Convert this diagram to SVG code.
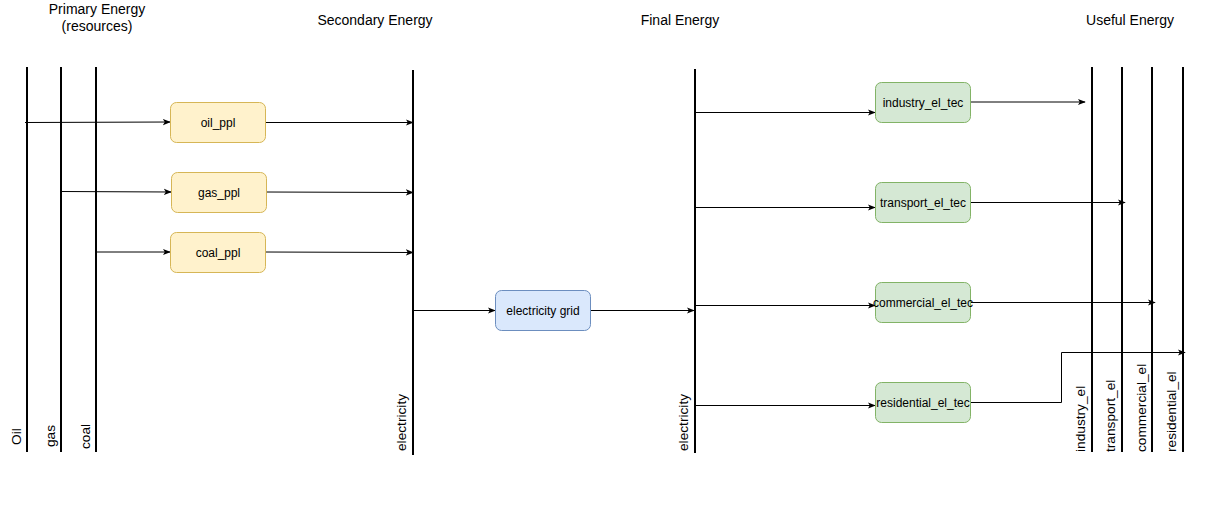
<svg xmlns="http://www.w3.org/2000/svg" width="1216" height="523" viewBox="0 0 1216 523">
<style>
text{font-family:"Liberation Sans",Arial,sans-serif;fill:#000}
.title{font-size:14px;text-anchor:middle}
.vl{font-size:13.7px;text-anchor:start}
.nl{font-size:12px;text-anchor:middle;dominant-baseline:central}
.bus{stroke:#000;stroke-width:2;fill:none}
.y{fill:#fff2cc;stroke:#d6b656}
.b{fill:#dae8fc;stroke:#6c8ebf}
.g{fill:#d5e8d4;stroke:#82b366}
.c{stroke:#000;stroke-width:1;fill:none;marker-end:url(#a)}
</style>
<defs>
<marker id="a" viewBox="0 0 10 10" refX="9" refY="5" markerWidth="8" markerHeight="8" markerUnits="userSpaceOnUse" orient="auto">
<path d="M0,1 L10,5 L0,9 L2.5,5 Z" fill="#000"/>
</marker>
</defs>
<rect width="1216" height="523" fill="#fff"/>
<g id="titles">
<text class="title" x="97" y="14">Primary Energy</text>
<text class="title" x="97" y="31">(resources)</text>
<text class="title" x="375" y="25">Secondary Energy</text>
<text class="title" x="680" y="25">Final Energy</text>
<text class="title" x="1130" y="25">Useful Energy</text>
</g>
<g id="bus-oil"><line class="bus" x1="27" y1="67" x2="27" y2="452"/><text class="vl" transform="translate(21,445) rotate(-90)">Oil</text></g>
<g id="bus-gas"><line class="bus" x1="61" y1="67" x2="61" y2="452"/><text class="vl" transform="translate(55,447) rotate(-90)">gas</text></g>
<g id="bus-coal"><line class="bus" x1="96" y1="67" x2="96" y2="452"/><text class="vl" transform="translate(90,449) rotate(-90)">coal</text></g>
<g id="bus-sec-electricity"><line class="bus" x1="413" y1="70" x2="413" y2="455"/><text class="vl" transform="translate(406,451) rotate(-90)">electricity</text></g>
<g id="bus-final-electricity"><line class="bus" x1="695" y1="69" x2="695" y2="453"/><text class="vl" transform="translate(688,451) rotate(-90)">electricity</text></g>
<g id="bus-industry"><line class="bus" x1="1092" y1="67" x2="1092" y2="452"/><text class="vl" transform="translate(1085,452) rotate(-90)">industry_el</text></g>
<g id="bus-transport"><line class="bus" x1="1122" y1="67" x2="1122" y2="452"/><text class="vl" transform="translate(1115,452) rotate(-90)">transport_el</text></g>
<g id="bus-commercial"><line class="bus" x1="1152" y1="67" x2="1152" y2="452"/><text class="vl" transform="translate(1146,452) rotate(-90)">commercial_el</text></g>
<g id="bus-residential"><line class="bus" x1="1183" y1="67" x2="1183" y2="452"/><text class="vl" transform="translate(1176,452) rotate(-90)">residential_el</text></g>
<g id="connectors">
<path class="c" d="M25,122.5 L170,122"/>
<path class="c" d="M265,122.5 L413,122.5"/>
<path class="c" d="M61,191.5 L171,192"/>
<path class="c" d="M266,192 L413,192.5"/>
<path class="c" d="M96,252 L170,252"/>
<path class="c" d="M265,252 L413,252.5"/>
<path class="c" d="M414,310.5 L495,310.5"/>
<path class="c" d="M590,310.5 L694,310.5"/>
<path class="c" d="M696,112.5 L875,112.5"/>
<path class="c" d="M970,102 L1085,102"/>
<path class="c" d="M696,207.5 L875,207.5"/>
<path class="c" d="M970,202.5 L1125,202.5"/>
<path class="c" d="M696,305.5 L875,305.5"/>
<path class="c" d="M970,302.5 L1155,302.5"/>
<path class="c" d="M696,405.5 L875,405.5"/>
<path class="c" d="M970,402.5 L1061.5,402.5 L1061.5,352.5 L1185,352.5"/>
</g>
<g id="oil_ppl"><rect class="y" x="170.5" y="102.5" width="95" height="40" rx="6"/><text class="nl" x="218" y="122.5">oil_ppl</text></g>
<g id="gas_ppl"><rect class="y" x="171.5" y="172.5" width="95" height="40" rx="6"/><text class="nl" x="219" y="192.5">gas_ppl</text></g>
<g id="coal_ppl"><rect class="y" x="170.5" y="232.5" width="95" height="40" rx="6"/><text class="nl" x="218" y="252.5">coal_ppl</text></g>
<g id="electricity_grid"><rect class="b" x="495.5" y="290.5" width="95" height="40" rx="6"/><text class="nl" x="543" y="310.5">electricity grid</text></g>
<g id="industry_el_tec"><rect class="g" x="875.5" y="82.5" width="95" height="40" rx="6"/><text class="nl" x="923" y="102.5">industry_el_tec</text></g>
<g id="transport_el_tec"><rect class="g" x="875.5" y="182.5" width="95" height="40" rx="6"/><text class="nl" x="923" y="202.5">transport_el_tec</text></g>
<g id="commercial_el_tec"><rect class="g" x="875.5" y="282.5" width="95" height="40" rx="6"/><text class="nl" x="923" y="302.5">commercial_el_tec</text></g>
<g id="residential_el_tec"><rect class="g" x="875.5" y="382.5" width="95" height="40" rx="6"/><text class="nl" x="923" y="402.5">residential_el_tec</text></g>
</svg>
